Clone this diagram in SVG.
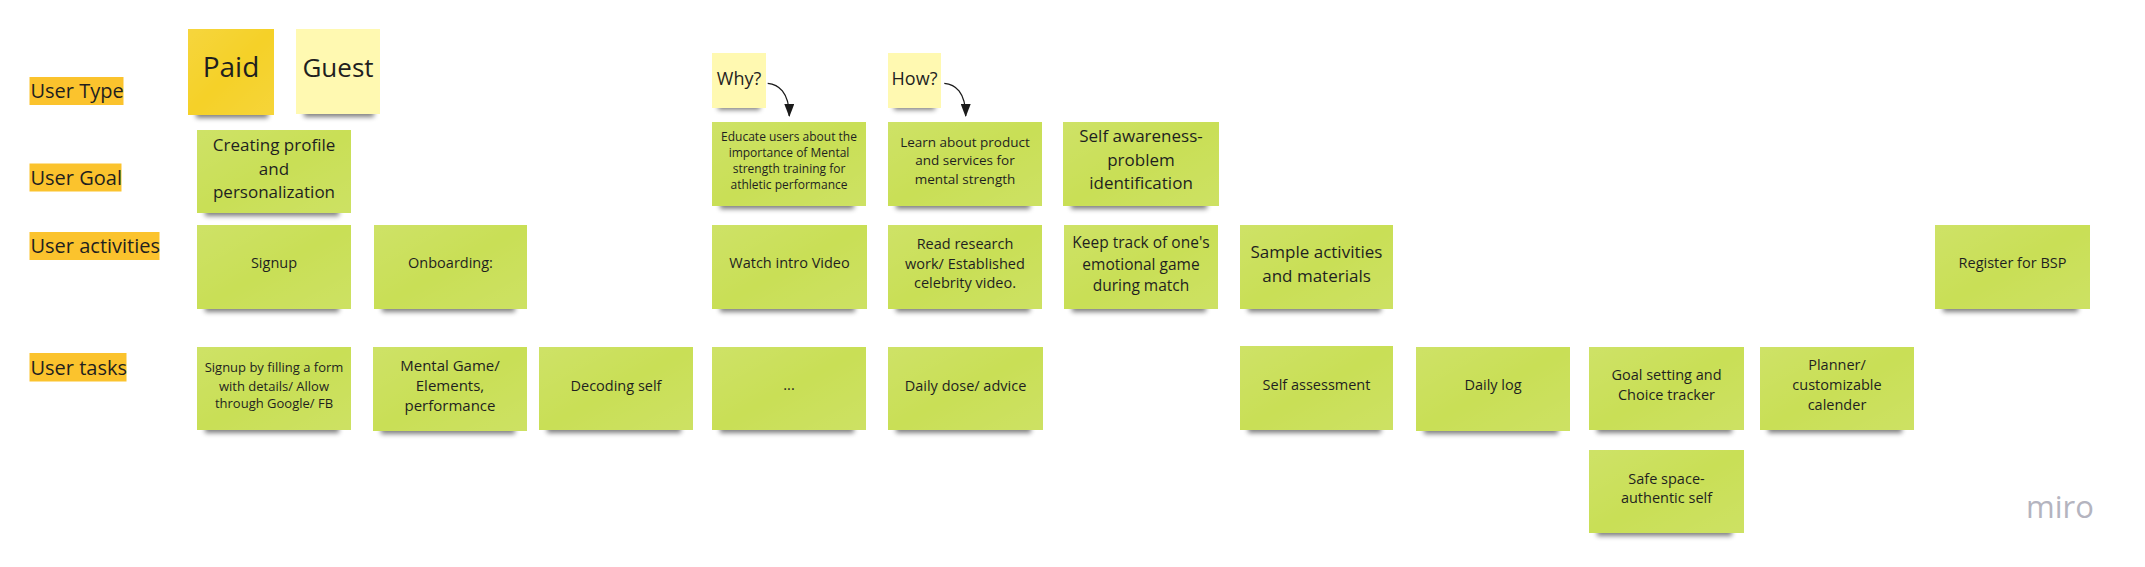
<svg xmlns="http://www.w3.org/2000/svg" width="2145" height="567" viewBox="0 0 2145 567">
<defs>
<filter id="blur" x="-20%" y="-100%" width="140%" height="300%"><feGaussianBlur stdDeviation="2.6"/></filter>
<linearGradient id="sheen" x1="0" y1="0" x2="1" y2="1">
<stop offset="0" stop-color="#ffffff" stop-opacity="0.10"/>
<stop offset="0.5" stop-color="#ffffff" stop-opacity="0"/>
<stop offset="1" stop-color="#ffffff" stop-opacity="0.08"/>
</linearGradient>
<marker id="ah" viewBox="0 0 13 10" refX="12" refY="5" markerWidth="13" markerHeight="10" markerUnits="userSpaceOnUse" orient="auto">
<path d="M0,0 L13,5 L0,10 Z" fill="#1a1a1a"/>
</marker>
<style>
.g{fill:#c9df56}
.y{fill:#f5d128}
.ly{fill:#fff9b1}
.sh{fill:#000;opacity:.5;filter:url(#blur)}
.sn{fill:url(#sheen)}
.hl{fill:#fbc32d}
.t{font-family:"Open Sans","Noto Sans","Liberation Sans",sans-serif;fill:#1f1f1f;text-anchor:middle}
.lb{font-family:"Open Sans","Noto Sans","Liberation Sans",sans-serif;fill:#1f1f1f;font-size:20px}
.f12{font-size:12px}.f13{font-size:13px}.f135{font-size:13.5px}.f145{font-size:14.5px}.f15{font-size:15px}.f155{font-size:15.5px}.f17{font-size:17px}.f18{font-size:18px}.f26{font-size:26px}.f28{font-size:28px}
.cn{fill:none;stroke:#1a1a1a;stroke-width:1.3}
.logo{font-family:"Open Sans","Noto Sans",sans-serif;font-size:31px;fill:#b4b4bf}
</style>
</defs>
<rect width="2145" height="567" fill="#ffffff"/>

<g id="label-user-type"><rect class="hl" x="29.5" y="77" width="94" height="28"/><text class="lb" x="30.5" y="98.3">User Type</text></g>
<g id="label-user-goal"><rect class="hl" x="29.5" y="163.5" width="92" height="28"/><text class="lb" x="30.5" y="184.8">User Goal</text></g>
<g id="label-user-activities"><rect class="hl" x="29.5" y="232" width="130" height="28"/><text class="lb" x="30.5" y="253.3">User activities</text></g>
<g id="label-user-tasks"><rect class="hl" x="29.5" y="353" width="97" height="28.5"/><text class="lb" x="30.5" y="374.5">User tasks</text></g>

<g id="paid"><rect class="sh" x="196" y="109" width="72" height="9"/><rect class="y" x="188" y="29" width="86" height="86"/><rect class="sn" x="188" y="29" width="86" height="86"/><text class="t f28" x="231" y="76.7">Paid</text></g>
<g id="guest"><rect class="sh" x="304" y="108" width="70" height="9"/><rect class="ly" x="296" y="29" width="84" height="85"/><text class="t f26" x="338" y="76.7">Guest</text></g>
<g id="why"><rect class="sh" x="718" y="102" width="42" height="8"/><rect class="ly" x="712" y="53" width="54" height="55"/><text class="t f18" x="739" y="85">Why?</text></g>
<g id="how"><rect class="sh" x="894" y="102" width="41" height="8"/><rect class="ly" x="888" y="53" width="53" height="55"/><text class="t f18" x="914.5" y="85">How?</text></g>

<g id="goal-creating-profile"><rect class="sh" x="205" y="207" width="134" height="9"/><rect class="g" x="197" y="130" width="154" height="83"/><rect class="sn" x="197" y="130" width="154" height="83"/><text class="t f17" x="274"><tspan x="274" y="151.1">Creating profile</tspan><tspan x="274" y="174.7">and</tspan><tspan x="274" y="198.1">personalization</tspan></text></g>
<g id="goal-educate"><rect class="sh" x="720" y="200" width="134" height="9"/><rect class="g" x="712" y="122" width="154" height="84"/><rect class="sn" x="712" y="122" width="154" height="84"/><text class="t f12" x="789"><tspan x="789" y="140.8">Educate users about the</tspan><tspan x="789" y="156.8">importance of Mental</tspan><tspan x="789" y="172.8">strength training for</tspan><tspan x="789" y="188.8">athletic performance</tspan></text></g>
<g id="goal-learn"><rect class="sh" x="896" y="200" width="134" height="9"/><rect class="g" x="888" y="122" width="154" height="84"/><rect class="sn" x="888" y="122" width="154" height="84"/><text class="t f135" x="965"><tspan x="965" y="147">Learn about product</tspan><tspan x="965" y="165.3">and services for</tspan><tspan x="965" y="183.6">mental strength</tspan></text></g>
<g id="goal-self-awareness"><rect class="sh" x="1071" y="200" width="136" height="9"/><rect class="g" x="1063" y="122" width="156" height="84"/><rect class="sn" x="1063" y="122" width="156" height="84"/><text class="t f17" x="1141"><tspan x="1141" y="142.4">Self awareness-</tspan><tspan x="1141" y="166.1">problem</tspan><tspan x="1141" y="189.4">identification</tspan></text></g>

<g id="act-signup"><rect class="sh" x="205" y="303" width="134" height="9"/><rect class="g" x="197" y="225" width="154" height="84"/><rect class="sn" x="197" y="225" width="154" height="84"/><text class="t f145" x="274" y="268">Signup</text></g>
<g id="act-onboarding"><rect class="sh" x="382" y="303" width="133" height="9"/><rect class="g" x="374" y="225" width="153" height="84"/><rect class="sn" x="374" y="225" width="153" height="84"/><text class="t f145" x="450.5" y="268">Onboarding:</text></g>
<g id="act-watch"><rect class="sh" x="720" y="303" width="135" height="9"/><rect class="g" x="712" y="225" width="155" height="84"/><rect class="sn" x="712" y="225" width="155" height="84"/><text class="t f145" x="789.5" y="268">Watch intro Video</text></g>
<g id="act-read"><rect class="sh" x="896" y="303" width="134" height="9"/><rect class="g" x="888" y="225" width="154" height="84"/><rect class="sn" x="888" y="225" width="154" height="84"/><text class="t f145" x="965"><tspan x="965" y="249">Read research</tspan><tspan x="965" y="268.6">work/ Established</tspan><tspan x="965" y="288.4">celebrity video.</tspan></text></g>
<g id="act-keep-track"><rect class="sh" x="1072" y="303" width="134" height="9"/><rect class="g" x="1064" y="225" width="154" height="84"/><rect class="sn" x="1064" y="225" width="154" height="84"/><text class="t f155" x="1141"><tspan x="1141" y="248.3">Keep track of one's</tspan><tspan x="1141" y="269.8">emotional game</tspan><tspan x="1141" y="290.7">during match</tspan></text></g>
<g id="act-sample"><rect class="sh" x="1248" y="303" width="133" height="9"/><rect class="g" x="1240" y="225" width="153" height="84"/><rect class="sn" x="1240" y="225" width="153" height="84"/><text class="t f17" x="1316.5"><tspan x="1316.5" y="258.1">Sample activities</tspan><tspan x="1316.5" y="282.1">and materials</tspan></text></g>
<g id="act-register"><rect class="sh" x="1943" y="303" width="135" height="9"/><rect class="g" x="1935" y="225" width="155" height="84"/><rect class="sn" x="1935" y="225" width="155" height="84"/><text class="t f145" x="2012.5" y="268">Register for BSP</text></g>

<g id="task-signup-form"><rect class="sh" x="205" y="424" width="134" height="9"/><rect class="g" x="197" y="347" width="154" height="83"/><rect class="sn" x="197" y="347" width="154" height="83"/><text class="t f13" x="274"><tspan x="274" y="372.2">Signup by filling a form</tspan><tspan x="274" y="390.9">with details/ Allow</tspan><tspan x="274" y="408.2">through Google/ FB</tspan></text></g>
<g id="task-mental-game"><rect class="sh" x="381" y="425" width="134" height="9"/><rect class="g" x="373" y="347" width="154" height="84"/><rect class="sn" x="373" y="347" width="154" height="84"/><text class="t f15" x="450"><tspan x="450" y="370.5">Mental Game/</tspan><tspan x="450" y="390.8">Elements,</tspan><tspan x="450" y="410.8">performance</tspan></text></g>
<g id="task-decoding"><rect class="sh" x="547" y="424" width="134" height="9"/><rect class="g" x="539" y="347" width="154" height="83"/><rect class="sn" x="539" y="347" width="154" height="83"/><text class="t f145" x="616" y="390.6">Decoding self</text></g>
<g id="task-ellipsis"><rect class="sh" x="720" y="424" width="134" height="9"/><rect class="g" x="712" y="347" width="154" height="83"/><rect class="sn" x="712" y="347" width="154" height="83"/><text class="t f145" x="789" y="390">...</text></g>
<g id="task-daily-dose"><rect class="sh" x="896" y="424" width="135" height="9"/><rect class="g" x="888" y="347" width="155" height="83"/><rect class="sn" x="888" y="347" width="155" height="83"/><text class="t f145" x="965.5" y="390.6">Daily dose/ advice</text></g>
<g id="task-self-assessment"><rect class="sh" x="1248" y="424" width="133" height="9"/><rect class="g" x="1240" y="346" width="153" height="84"/><rect class="sn" x="1240" y="346" width="153" height="84"/><text class="t f145" x="1316.5" y="390.3">Self assessment</text></g>
<g id="task-daily-log"><rect class="sh" x="1424" y="425" width="134" height="9"/><rect class="g" x="1416" y="347" width="154" height="84"/><rect class="sn" x="1416" y="347" width="154" height="84"/><text class="t f145" x="1493" y="390.3">Daily log</text></g>
<g id="task-goal-setting"><rect class="sh" x="1597" y="424" width="135" height="9"/><rect class="g" x="1589" y="347" width="155" height="83"/><rect class="sn" x="1589" y="347" width="155" height="83"/><text class="t f145" x="1666.5"><tspan x="1666.5" y="380.3">Goal setting and</tspan><tspan x="1666.5" y="400.3">Choice tracker</tspan></text></g>
<g id="task-planner"><rect class="sh" x="1768" y="424" width="134" height="9"/><rect class="g" x="1760" y="347" width="154" height="83"/><rect class="sn" x="1760" y="347" width="154" height="83"/><text class="t f145" x="1837"><tspan x="1837" y="369.6">Planner/</tspan><tspan x="1837" y="390.3">customizable</tspan><tspan x="1837" y="410.3">calender</tspan></text></g>
<g id="task-safe-space"><rect class="sh" x="1597" y="527" width="135" height="9"/><rect class="g" x="1589" y="450" width="155" height="83"/><rect class="sn" x="1589" y="450" width="155" height="83"/><text class="t f145" x="1666.5"><tspan x="1666.5" y="484">Safe space-</tspan><tspan x="1666.5" y="503">authentic self</tspan></text></g>

<g id="connectors">
<path class="cn" d="M767.7,83.3 C778,84 789.3,92 789.3,116" marker-end="url(#ah)"/>
<path class="cn" d="M944.3,83.3 C955,84 965.7,92 965.7,116" marker-end="url(#ah)"/>
</g>

<text class="logo" x="2026" y="518">miro</text>
</svg>
